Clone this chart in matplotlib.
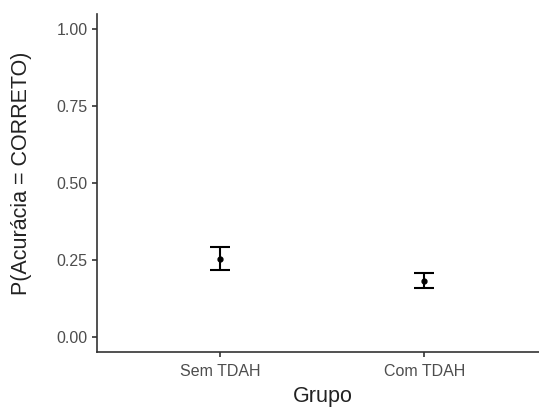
import numpy as np
import matplotlib.pyplot as plt

plt.rcParams['font.family'] = ['Liberation Sans', 'DejaVu Sans']

# Estimated probability of a correct answer per group, with CI limits
grupos = ['Sem TDAH', 'Com TDAH']
prob = np.array([0.253, 0.182])
lower = np.array([0.217, 0.159])
upper = np.array([0.292, 0.207])
yticks = [0.00, 0.25, 0.50, 0.75, 1.00]

fig = plt.figure(figsize=(5.39, 4.07), dpi=100)
ax = fig.add_axes([0.1807, 0.1342, 0.8193, 0.8324])

x = np.arange(1, len(grupos) + 1)
yerr = np.vstack([prob - lower, upper - prob])
ax.errorbar(x, prob, yerr=yerr, fmt='o', color='black', ecolor='black',
            markersize=3.5, elinewidth=1.5, capsize=7.2, capthick=1.5)

ax.set_xlim(0.4, 2.561)
ax.set_ylim(-0.05, 1.05)
ax.set_xticks(x)
ax.set_xticklabels(grupos)
ax.set_yticks(yticks)
ax.set_yticklabels([f'{t:.2f}' for t in yticks])

# theme_classic look: only left and bottom axis lines
for side in ['top', 'right']:
    ax.spines[side].set_visible(False)
for side in ['left', 'bottom']:
    ax.spines[side].set_linewidth(1.2)
    ax.spines[side].set_color('#333333')

ax.tick_params(axis='both', length=3.6, width=1.2, color='#333333',
               labelcolor='#4d4d4d', labelsize=11.5)
ax.tick_params(axis='y', pad=3.5)
ax.tick_params(axis='x', pad=5)

ax.set_ylabel('P(Acurácia = CORRETO)', fontsize=15.5, color='#222222', va='center')
ax.yaxis.set_label_coords(-0.171, 0.53)
ax.set_xlabel('Grupo', fontsize=15.5, color='#222222', va='baseline')
ax.xaxis.set_label_coords(0.51, -0.147)

fig.savefig('out.png', dpi=100)
